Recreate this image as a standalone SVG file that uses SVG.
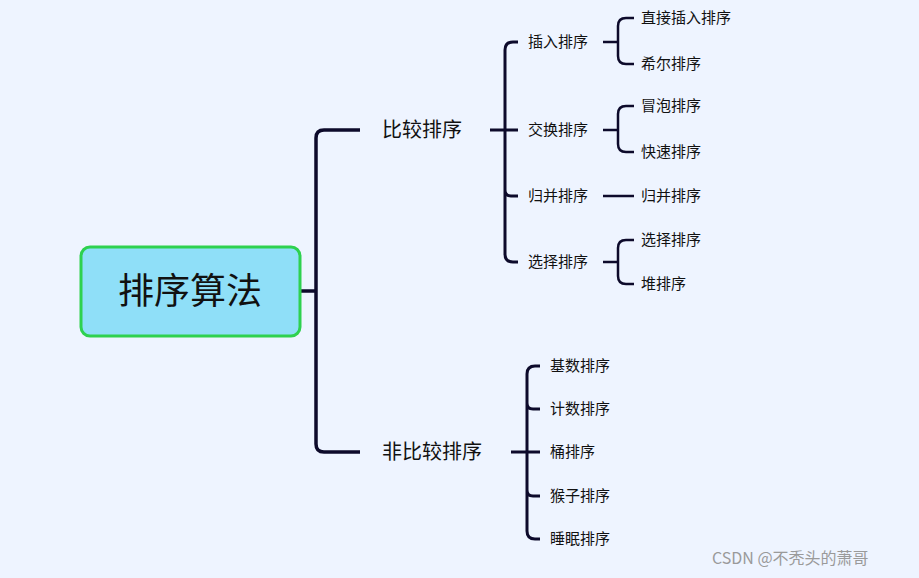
<svg xmlns="http://www.w3.org/2000/svg" width="919" height="578" viewBox="0 0 919 578">
<style>
text{font-family:"Noto Sans CJK SC","Noto Sans",sans-serif;fill:#111;}
.c{fill:none;stroke:#0d0a2b;stroke-linecap:butt;stroke-linejoin:round}
.w1{stroke-width:3.5}.w2{stroke-width:3}.w3{stroke-width:2.5}
.t2{font-size:20px}.t3{font-size:15px}
</style>
<rect width="919" height="578" fill="#eef4ff"/>
<g id="connectors">
<path class="c w1" d="M300 291H316M360 130H324Q316 130 316 138V444Q316 452 324 452H360"/>
<path class="c w2" d="M490 130H518M518 42H513Q505 42 505 50V254Q505 262 513 262H518M505 196Q505 188 505 188M505 188V190Q505 196 511 196H518"/>
<path class="c w3" d="M603 42H618M634 18H626Q618 18 618 26V56Q618 64 626 64H634"/>
<path class="c w3" d="M603 130H618M634 106H626Q618 106 618 114V144Q618 152 626 152H634"/>
<path class="c w3" d="M603 196H634"/>
<path class="c w3" d="M603 262H618M634 240H626Q618 240 618 248V276Q618 284 626 284H634"/>
<path class="c w2" d="M511 452H540M540 366H535Q527 366 527 374V531Q527 539 535 539H540M527 409Q527 401 527 401V403Q527 409 533 409H540M527 496V490Q527 496 533 496H540"/>
</g>
<g id="root"><rect x="81" y="247" width="219" height="89" rx="9" fill="#8fdff8" stroke="#2ed14f" stroke-width="3"/><text x="190" y="304" font-size="36" text-anchor="middle">排序算法</text></g>
<g id="n1"><text class="t2" x="382" y="137">比较排序</text></g>
<g id="n2"><text class="t2" x="382" y="459">非比较排序</text></g>
<g id="n11"><text class="t3" x="528" y="47">插入排序</text></g>
<g id="n12"><text class="t3" x="528" y="135">交换排序</text></g>
<g id="n13"><text class="t3" x="528" y="201">归并排序</text></g>
<g id="n14"><text class="t3" x="528" y="267">选择排序</text></g>
<g id="n111"><text class="t3" x="641" y="23">直接插入排序</text></g>
<g id="n112"><text class="t3" x="641" y="69">希尔排序</text></g>
<g id="n121"><text class="t3" x="641" y="111">冒泡排序</text></g>
<g id="n122"><text class="t3" x="641" y="157">快速排序</text></g>
<g id="n131"><text class="t3" x="641" y="201">归并排序</text></g>
<g id="n141"><text class="t3" x="641" y="245">选择排序</text></g>
<g id="n142"><text class="t3" x="641" y="289">堆排序</text></g>
<g id="n21"><text class="t3" x="550" y="371">基数排序</text></g>
<g id="n22"><text class="t3" x="550" y="414">计数排序</text></g>
<g id="n23"><text class="t3" x="550" y="457">桶排序</text></g>
<g id="n24"><text class="t3" x="550" y="501">猴子排序</text></g>
<g id="n25"><text class="t3" x="550" y="544">睡眠排序</text></g>
<text x="712" y="564" font-size="16" style="fill:#9a9a9a">CSDN @不秃头的萧哥</text>
</svg>
